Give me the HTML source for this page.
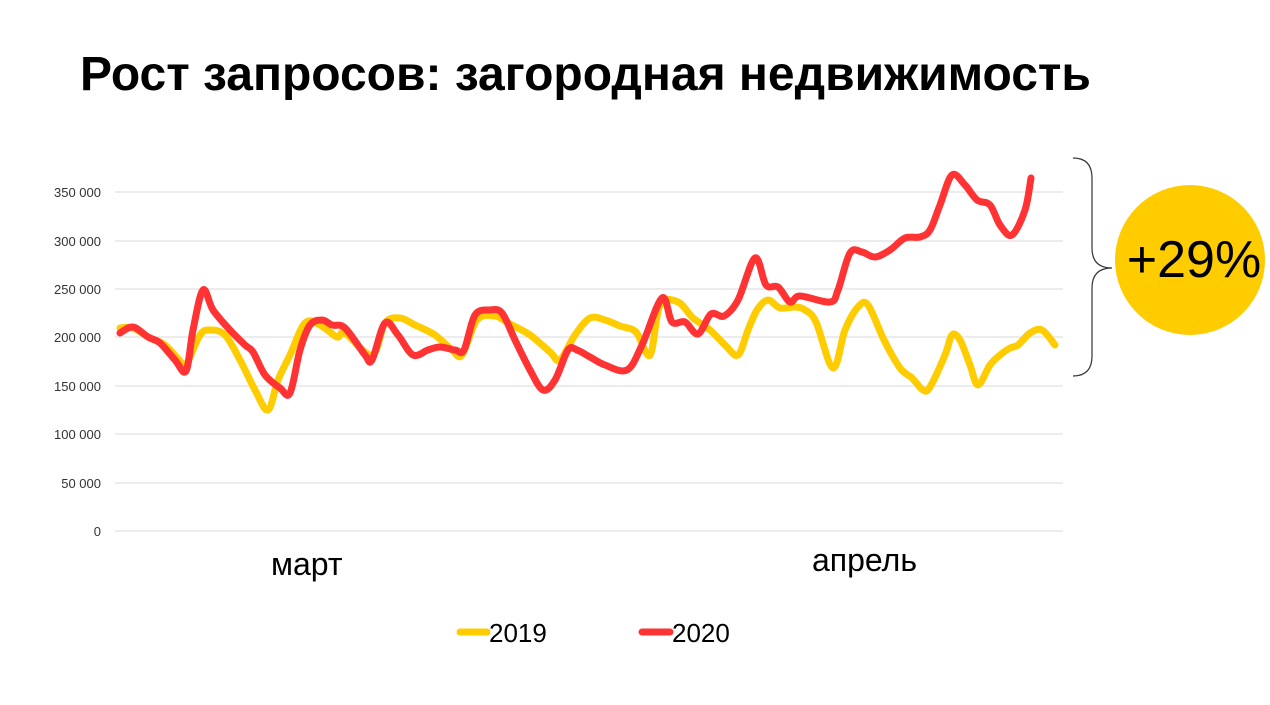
<!DOCTYPE html>
<html><head><meta charset="utf-8"><style>
body{margin:0;width:1270px;height:705px;background:#fff;overflow:hidden;font-family:"Liberation Sans",sans-serif;}
</style></head><body>
<svg width="1270" height="705" xmlns="http://www.w3.org/2000/svg" style="position:absolute;left:0;top:0">
<text x="80" y="90" font-family="Liberation Sans, sans-serif" font-weight="bold" font-size="48" fill="#000">Рост запросов: загородная недвижимость</text>
<g stroke="#d9d9d9" stroke-width="1">
<line x1="115" x2="1063" y1="531" y2="531"/><line x1="115" x2="1063" y1="483" y2="483"/>
<line x1="115" x2="1063" y1="434" y2="434"/><line x1="115" x2="1063" y1="386" y2="386"/>
<line x1="115" x2="1063" y1="337" y2="337"/><line x1="115" x2="1063" y1="289" y2="289"/>
<line x1="115" x2="1063" y1="241" y2="241"/><line x1="115" x2="1063" y1="192" y2="192"/>
</g>
<g font-size="13" fill="#333" text-anchor="end" font-family="Liberation Sans, sans-serif">
<text x="101" y="536">0</text><text x="101" y="488">50 000</text><text x="101" y="439">100 000</text>
<text x="101" y="391">150 000</text><text x="101" y="342">200 000</text><text x="101" y="294">250 000</text>
<text x="101" y="246">300 000</text><text x="101" y="197">350 000</text>
</g>
<text x="271" y="575" font-size="32" fill="#000">март</text>
<text x="812" y="571" font-size="32" fill="#000">апрель</text>
<path id="y" fill="none" stroke="#ffcc00" stroke-width="7" stroke-linecap="round" stroke-linejoin="round"/>
<path id="r" fill="none" stroke="#ff3333" stroke-width="7" stroke-linecap="round" stroke-linejoin="round"/>
<line x1="460" x2="487" y1="632" y2="632" stroke="#ffcc00" stroke-width="7" stroke-linecap="round"/>
<text x="489" y="642" font-size="26" fill="#000">2019</text>
<line x1="642" x2="670" y1="632" y2="632" stroke="#ff3333" stroke-width="7" stroke-linecap="round"/>
<text x="672" y="642" font-size="26" fill="#000">2020</text>
<path d="M1073,158 Q1092,158 1092,178 L1092,248 Q1092,268 1112,268 Q1092,268 1092,288 L1092,356 Q1092,376 1073,376" fill="none" stroke="#333" stroke-width="1.2"/>
<circle cx="1190" cy="260" r="75" fill="#ffcc00"/>
<text x="1194" y="277" font-size="52" text-anchor="middle" fill="#000">+29%</text>
</svg>
<script>
function cr(p){let d="M"+p[0][0]+","+p[0][1];for(let i=0;i<p.length-1;i++){const a=p[Math.max(0,i-1)],b=p[i],c=p[i+1],e=p[Math.min(p.length-1,i+2)];
const c1=[b[0]+(c[0]-a[0])/6,b[1]+(c[1]-a[1])/6],c2=[c[0]-(e[0]-b[0])/6,c[1]-(e[1]-b[1])/6];
d+=" C"+c1+" "+c2+" "+c;}return d;}
const R=[[120,333],[133,327],[148,337],[160,343],[175,360],[186,371],[193,330],[203,290],[213,310],[230,330],[245,345],[253,352],[265,375],[280,388],[290,393],[300,350],[310,325],[322,320],[332,325],[345,328],[365,355],[372,360],[385,323],[398,335],[413,355],[428,350],[440,347],[455,350],[464,350],[475,315],[490,310],[502,313],[515,340],[530,370],[543,390],[555,380],[568,350],[577,350],[590,357],[605,365],[627,370],[642,345],[662,298],[672,322],[685,322],[698,334],[711,314],[724,316],[738,300],[755,258],[766,285],[778,287],[790,302],[800,296],[830,302],[838,290],[850,253],[862,252],[875,257],[890,250],[905,238],[920,237],[930,230],[940,205],[952,175],[965,185],[977,200],[990,205],[1000,225],[1012,235],[1025,210],[1031,178]];
const Y=[[120,328],[133,328],[150,338],[165,345],[180,361],[186,365],[200,335],[210,330],[225,335],[240,360],[255,390],[268,410],[278,380],[290,355],[305,323],[320,325],[337,337],[345,333],[372,355],[385,323],[400,318],[415,325],[435,335],[452,350],[462,355],[477,320],[495,316],[510,324],[530,335],[550,352],[560,360],[575,335],[590,318],[605,320],[620,326],[636,332],[650,355],[660,305],[678,302],[693,318],[710,330],[725,345],[738,355],[748,330],[757,310],[768,300],[780,308],[795,307],[805,310],[816,322],[833,368],[845,330],[858,307],[868,305],[884,340],[900,368],[912,378],[923,390],[930,387],[945,355],[952,335],[960,340],[970,365],[978,385],[990,365],[1000,355],[1010,348],[1018,345],[1030,333],[1042,330],[1055,345]];
document.getElementById("y").setAttribute("d",cr(Y));
document.getElementById("r").setAttribute("d",cr(R));
</script>
</body></html>
